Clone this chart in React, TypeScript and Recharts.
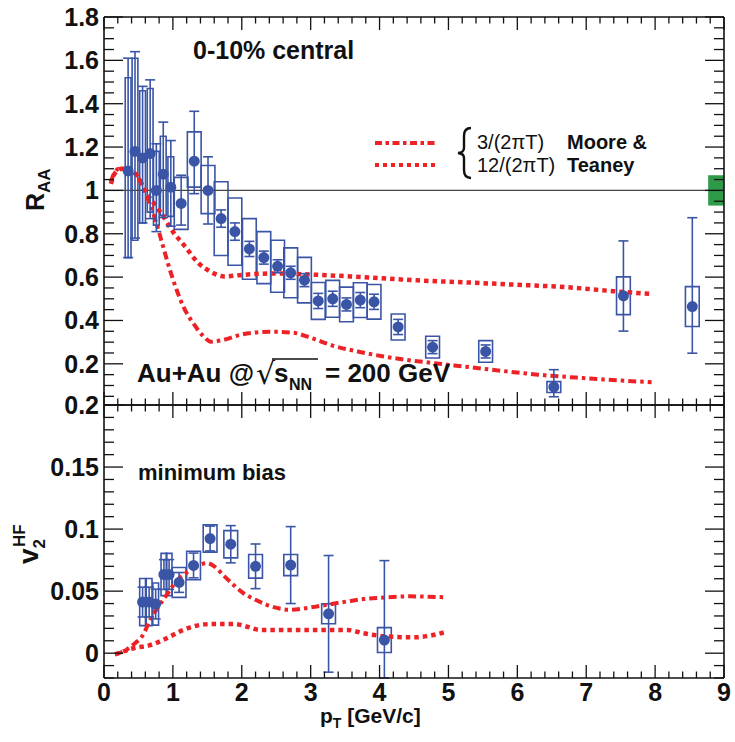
import React from "react";
import {
  ComposedChart,
  XAxis,
  YAxis,
  Scatter,
  ErrorBar,
  Line,
  ReferenceLine,
  ReferenceArea,
} from "recharts";

const BLUE = "#3a55a6";
const RED = "#ec2227";
const FONT = "'Liberation Sans', Arial, Helvetica, sans-serif";

// ---- R_AA, 0-10% central ----
const raaPt = [0.35, 0.45, 0.56, 0.67, 0.76, 0.86, 0.97, 1.12, 1.31, 1.51, 1.7, 1.9, 2.11, 2.32, 2.52, 2.71, 2.91, 3.11, 3.32, 3.52, 3.72, 3.92, 4.27, 4.77, 5.54, 6.53, 7.54, 8.54];
const raaVal = [1.09, 1.18, 1.15, 1.17, 1.0, 1.075, 1.015, 0.94, 1.135, 1.0, 0.87, 0.81, 0.73, 0.69, 0.65, 0.62, 0.586, 0.49, 0.5, 0.474, 0.494, 0.486, 0.37, 0.277, 0.257, 0.093, 0.514, 0.464];
const raaStatUp = [0.52, 0.46, 0.33, 0.34, 0.215, 0.24, 0.215, 0.13, 0.23, 0.155, 0.04, 0.04, 0.035, 0.03, 0.03, 0.03, 0.03, 0.035, 0.035, 0.03, 0.035, 0.035, 0.035, 0.03, 0.03, 0.08, 0.253, 0.41];
const raaStatDn = [0.4, 0.4, 0.3, 0.3, 0.19, 0.2, 0.18, 0.1, 0.15, 0.155, 0.04, 0.04, 0.035, 0.03, 0.03, 0.03, 0.03, 0.035, 0.035, 0.03, 0.035, 0.035, 0.035, 0.03, 0.03, 0.045, 0.163, 0.215];
const raaSysUp = [0.43, 0.43, 0.31, 0.3, 0.18, 0.175, 0.14, 0.12, 0.135, 0.115, 0.17, 0.155, 0.14, 0.12, 0.12, 0.115, 0.105, 0.085, 0.085, 0.08, 0.08, 0.08, 0.06, 0.05, 0.05, 0.025, 0.087, 0.092];
const raaSysDn = [0.4, 0.41, 0.3, 0.27, 0.16, 0.19, 0.135, 0.12, 0.12, 0.107, 0.17, 0.155, 0.14, 0.12, 0.12, 0.115, 0.105, 0.085, 0.085, 0.08, 0.08, 0.08, 0.06, 0.05, 0.05, 0.025, 0.087, 0.092];

// ---- v2 heavy flavour, minimum bias ----
const v2Pt = [0.56, 0.655, 0.75, 0.87, 0.945, 1.09, 1.3, 1.54, 1.84, 2.2, 2.71, 3.26, 4.07];
const v2Val = [0.0412, 0.0412, 0.0396, 0.0634, 0.0634, 0.057, 0.0707, 0.0924, 0.0878, 0.07, 0.071, 0.0317, 0.0106];
const v2Stat = [0.012, 0.012, 0.012, 0.012, 0.012, 0.008, 0.01, 0.01, 0.015, 0.018, 0.031, 0.047, 0.064];
const v2Sys = [0.019, 0.019, 0.017, 0.017, 0.017, 0.012, 0.0115, 0.011, 0.011, 0.0095, 0.0085, 0.008, 0.01];

// ---- Moore & Teaney, 3/(2piT) ----
const mt3RaaPt = [0.1, 0.15, 0.22, 0.3, 0.45, 0.57, 0.65, 0.75, 0.85, 0.95, 1.05, 1.15, 1.3, 1.45, 1.55, 1.7, 2.0, 2.4, 2.75, 3.0, 3.33, 3.7, 4.06, 4.4, 4.79, 5.3, 5.76, 6.3, 6.97, 7.5, 7.95];
const mt3RaaVal = [1.04, 1.08, 1.1, 1.1, 1.077, 1.015, 0.95, 0.86, 0.75, 0.64, 0.545, 0.465, 0.385, 0.325, 0.302, 0.308, 0.335, 0.348, 0.343, 0.32, 0.283, 0.256, 0.234, 0.218, 0.203, 0.185, 0.168, 0.15, 0.134, 0.123, 0.115];
const mt3V2Pt = [0.16, 0.3, 0.45, 0.57, 0.67, 0.76, 0.91, 1.05, 1.2, 1.4, 1.5, 1.6, 1.73, 1.88, 2.02, 2.2, 2.36, 2.7, 3.09, 3.53, 3.77, 4.1, 4.45, 4.96];
const mt3V2Val = [-0.001, 0.002, 0.008, 0.015, 0.027, 0.035, 0.047, 0.058, 0.065, 0.0715, 0.0725, 0.07, 0.063, 0.055, 0.0485, 0.043, 0.039, 0.035, 0.0377, 0.0417, 0.0436, 0.045, 0.0458, 0.045];

// ---- Moore & Teaney, 12/(2piT) ----
const mt12RaaPt = [0.1, 0.16, 0.26, 0.4, 0.5, 0.59, 0.69, 0.84, 1.0, 1.18, 1.37, 1.55, 1.75, 2.0, 2.46, 3.0, 3.58, 4.54, 5.3, 5.76, 6.73, 7.4, 7.95];
const mt12RaaVal = [1.03, 1.08, 1.1, 1.09, 1.06, 1.0, 0.955, 0.89, 0.81, 0.74, 0.665, 0.625, 0.603, 0.61, 0.617, 0.612, 0.603, 0.585, 0.575, 0.568, 0.553, 0.535, 0.522];
const mt12V2Pt = [0.16, 0.43, 0.67, 0.91, 1.15, 1.4, 1.6, 1.88, 2.1, 2.27, 2.85, 3.53, 3.77, 4.1, 4.5, 4.98];
const mt12V2Val = [-0.001, 0.004, 0.0065, 0.012, 0.0187, 0.0228, 0.0236, 0.0236, 0.021, 0.0187, 0.0187, 0.0187, 0.016, 0.0135, 0.0128, 0.0173];

// ---- axes ----
const xTicks = Array.from({ length: 46 }, (_, i) => Math.round(i * 2) / 10);
const xMajor = [0, 1, 2, 3, 4, 5, 6, 7, 8, 9];
const raaDomain = [0.01, 1.8];
const raaTicks = Array.from({ length: 36 }, (_, i) => Math.round((i + 1) * 5) / 100);
const raaMajor = [0.2, 0.4, 0.6, 0.8, 1, 1.2, 1.4, 1.6, 1.8];
const v2Domain = [-0.02, 0.2];
const v2Ticks = Array.from({ length: 23 }, (_, i) => (i - 2) / 100);
const v2Major = [0, 0.05, 0.1, 0.15, 0.2];

const zip = (xs: number[], ys: number[]) => xs.map((x, i) => ({ x, y: ys[i] }));

const raaPoints = raaPt.map((x, i) => ({ x, y: raaVal[i], err: [raaStatDn[i], raaStatUp[i]] }));
// error bars stop at the frame, as in the figure
const v2Points = v2Pt.map((x, i) => ({
  x,
  y: v2Val[i],
  err: [Math.min(v2Stat[i], v2Val[i] - v2Domain[0]), v2Stat[i]],
}));

const axisLine = { stroke: "#111", strokeWidth: 1.6 };

function makeTick(side: string, majors: number[], majorLen: number, minorLen: number, label: boolean) {
  return (props: any) => {
    const { x, y, payload } = props;
    const v = payload.value;
    const isMajor = majors.some((m) => Math.abs(m - v) < 1e-6);
    const len = isMajor ? majorLen : minorLen;
    let x2 = x;
    let y2 = y;
    if (side === "bottom") y2 = y - len;
    if (side === "top") y2 = y + len;
    if (side === "left") x2 = x + len;
    if (side === "right") x2 = x - len;
    return (
      <g>
        <line x1={x} y1={y} x2={x2} y2={y2} stroke="#111" strokeWidth={1.3} />
        {label && isMajor && side === "bottom" && (
          <text x={x} y={y + 23} textAnchor="middle" fontFamily={FONT} fontWeight="bold" fontSize={25} fill="#111">
            {String(v)}
          </text>
        )}
        {label && isMajor && side === "left" && (
          <text x={x - 5} y={y} dy="0.36em" textAnchor="end" fontFamily={FONT} fontWeight="bold" fontSize={25} fill="#111">
            {String(v)}
          </text>
        )}
      </g>
    );
  };
}

const dot = (p: any) => <circle cx={p.cx} cy={p.cy} r={5.5} fill={BLUE} />;

const boxHalf = (pt: number) => (pt < 1.02 ? 0.042 : 0.1);

const xAxisCommon = {
  type: "number" as const,
  dataKey: "x",
  domain: [0, 9],
  ticks: xTicks,
  interval: 0,
  height: 1,
  tickSize: 0,
  tickMargin: 0,
  tickLine: false,
  axisLine: axisLine,
  allowDataOverflow: true,
};

const yAxisCommon = {
  type: "number" as const,
  interval: 0,
  width: 1,
  tickSize: 0,
  tickMargin: 0,
  tickLine: false,
  axisLine: axisLine,
  allowDataOverflow: true,
};

const TopPanel = () => (
  <ComposedChart width={735} height={407} margin={{ top: 16, right: 10, bottom: 1, left: 103 }}>
    <XAxis xAxisId="b" {...xAxisCommon} tick={makeTick("bottom", xMajor, 13, 6.5, false)} />
    <XAxis xAxisId="t" orientation="top" {...xAxisCommon} tick={makeTick("top", xMajor, 13, 6.5, false)} />
    <YAxis yAxisId="l" {...yAxisCommon} domain={raaDomain} ticks={raaTicks} tick={makeTick("left", raaMajor, 19, 10, true)} />
    <YAxis yAxisId="r" orientation="right" {...yAxisCommon} domain={raaDomain} ticks={raaTicks} tick={makeTick("right", raaMajor, 19, 10, false)} />

    <ReferenceArea xAxisId="b" yAxisId="l" x1={8.77} x2={9} y1={0.93} y2={1.07} fill="#2e9b48" fillOpacity={1} stroke="none" />
    <ReferenceLine xAxisId="b" yAxisId="l" y={1} stroke="#444" strokeWidth={1.3} />

    {raaPt.map((pt, i) => (
      <ReferenceArea
        key={"rb" + i}
        xAxisId="b"
        yAxisId="l"
        x1={pt - boxHalf(pt)}
        x2={pt + boxHalf(pt)}
        y1={raaVal[i] - raaSysDn[i]}
        y2={raaVal[i] + raaSysUp[i]}
        fill="none"
        stroke={BLUE}
        strokeWidth={1.6}
        ifOverflow="visible"
      />
    ))}

    <Line xAxisId="b" yAxisId="l" data={zip(mt3RaaPt, mt3RaaVal)} dataKey="y" type="monotone" stroke={RED} strokeWidth={4} strokeDasharray="8 4 3.5 4" dot={false} isAnimationActive={false} />
    <Line xAxisId="b" yAxisId="l" data={zip(mt12RaaPt, mt12RaaVal)} dataKey="y" type="monotone" stroke={RED} strokeWidth={4.5} strokeDasharray="4.5 4" dot={false} isAnimationActive={false} />

    <Scatter xAxisId="b" yAxisId="l" data={raaPoints} dataKey="y" shape={dot} isAnimationActive={false}>
      <ErrorBar dataKey="err" direction="y" width={5} stroke={BLUE} strokeWidth={1.6} />
    </Scatter>
  </ComposedChart>
);

const BottomPanel = () => (
  <ComposedChart width={735} height={362} margin={{ top: 24, right: 10, bottom: 63, left: 103 }}>
    <XAxis xAxisId="b" {...xAxisCommon} tick={makeTick("bottom", xMajor, 13, 6.5, true)} />
    <XAxis xAxisId="t" orientation="top" {...xAxisCommon} tick={makeTick("top", xMajor, 13, 6.5, false)} />
    <YAxis yAxisId="l" {...yAxisCommon} domain={v2Domain} ticks={v2Ticks} tick={makeTick("left", v2Major, 19, 10, true)} />
    <YAxis yAxisId="r" orientation="right" {...yAxisCommon} domain={v2Domain} ticks={v2Ticks} tick={makeTick("right", v2Major, 19, 10, false)} />

    {v2Pt.map((pt, i) => (
      <ReferenceArea
        key={"vb" + i}
        xAxisId="b"
        yAxisId="l"
        x1={pt - boxHalf(pt)}
        x2={pt + boxHalf(pt)}
        y1={v2Val[i] - v2Sys[i]}
        y2={v2Val[i] + v2Sys[i]}
        fill="none"
        stroke={BLUE}
        strokeWidth={1.6}
        ifOverflow="visible"
      />
    ))}

    <Line xAxisId="b" yAxisId="l" data={zip(mt3V2Pt, mt3V2Val)} dataKey="y" type="monotone" stroke={RED} strokeWidth={4} strokeDasharray="8 4 3.5 4" dot={false} isAnimationActive={false} />
    <Line xAxisId="b" yAxisId="l" data={zip(mt12V2Pt, mt12V2Val)} dataKey="y" type="monotone" stroke={RED} strokeWidth={4.5} strokeDasharray="4.5 4" dot={false} isAnimationActive={false} />

    <Scatter xAxisId="b" yAxisId="l" data={v2Points} dataKey="y" shape={dot} isAnimationActive={false}>
      <ErrorBar dataKey="err" direction="y" width={5} stroke={BLUE} strokeWidth={1.6} />
    </Scatter>
  </ComposedChart>
);

const Labels = () => (
  <svg width={735} height={742} style={{ position: "absolute", left: 0, top: 0, pointerEvents: "none" }} fontFamily={FONT} fill="#111">
    <text x={193} y={59} fontSize={25} fontWeight="bold">0-10% central</text>

    {/* legend */}
    <line x1={375} y1={143} x2={437} y2={143} stroke={RED} strokeWidth={4} strokeDasharray="7 3.5 3.5 3.5" />
    <line x1={375} y1={165} x2={437} y2={165} stroke={RED} strokeWidth={4} strokeDasharray="4 4" />
    <path d="M 471 128 Q 464 128 464 136 L 464 148 Q 464 152.5 458 153 Q 464 153.5 464 158 L 464 170 Q 464 178 471 178" fill="none" stroke="#111" strokeWidth={2.4} />
    <text x={477} y={149} fontSize={20}>3/(2πT)</text>
    <text x={477} y={172} fontSize={20}>12/(2πT)</text>
    <text x={567} y={149} fontSize={20} fontWeight="bold">Moore &amp;</text>
    <text x={567} y={172} fontSize={20} fontWeight="bold">Teaney</text>

    {/* collision system */}
    <text x={137} y={382} fontSize={26} fontWeight="bold">Au+Au @</text>
    <text x={256} y={384} fontSize={30} fontFamily="'DejaVu Sans', sans-serif">√</text>
    <line x1={272} y1={359} x2={318} y2={359} stroke="#111" strokeWidth={1.4} />
    <text x={274} y={382} fontSize={26} fontWeight="bold">s</text>
    <text x={289} y={390} fontSize={16} fontWeight="bold">NN</text>
    <text x={325} y={382} fontSize={26} fontWeight="bold">= 200 GeV</text>

    <text x={138} y={480} fontSize={22} fontWeight="bold">minimum bias</text>

    {/* axis titles */}
    <text transform="translate(44,211) rotate(-90)" fontSize={25} fontWeight="bold">
      R<tspan fontSize={17} dy={6}>AA</tspan>
    </text>
    <text transform="translate(38,564) rotate(-90)" fontSize={28} fontWeight="bold">
      v<tspan fontSize={17} dy={7}>2</tspan>
      <tspan fontSize={17} x={17} dy={-20}>HF</tspan>
    </text>
    <text x={320} y={723} fontSize={21} fontWeight="bold">
      p<tspan fontSize={14} dy={5}>T</tspan>
      <tspan dy={-5}> [GeV/c]</tspan>
    </text>
  </svg>
);

export default function App() {
  return (
    <div style={{ position: "absolute", left: 0, top: 0, width: 735, height: 742, background: "#fff" }}>
      <div style={{ position: "absolute", left: 0, top: 0 }}>
        <TopPanel />
      </div>
      <div style={{ position: "absolute", left: 0, top: 380 }}>
        <BottomPanel />
      </div>
      <Labels />
    </div>
  );
}
